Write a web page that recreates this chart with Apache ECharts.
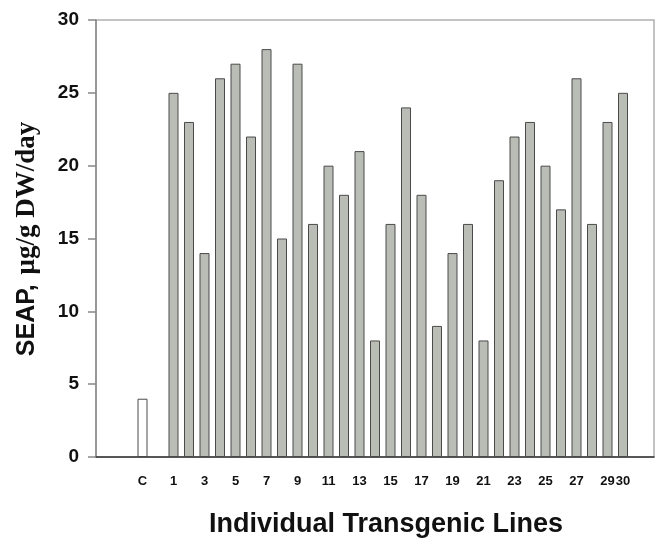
<!DOCTYPE html>
<html>
<head>
<meta charset="utf-8">
<script src="https://cdn.jsdelivr.net/npm/echarts@6/dist/echarts.min.js"></script>
<style>
  html, body { margin: 0; padding: 0; background: #fff; }
  #container { width: 656px; height: 548px; }
</style>
</head>
<body>
<div id="container"></div>
<script>
// lines: control C, then transgenic lines 1..30
var lines = ['C', '1', '2', '3', '4', '5', '6', '7', '8', '9', '10',
    '11', '12', '13', '14', '15', '16', '17', '18', '19', '20',
    '21', '22', '23', '24', '25', '26', '27', '28', '29', '30'];
// SEAP, ug/g DW/day
var seap = [4, 25, 23, 14, 26, 27, 22, 28, 15, 27, 16,
    20, 18, 21, 8, 16, 24, 18, 9, 14, 16,
    8, 19, 22, 23, 20, 17, 26, 16, 23, 25];
// labels shown under the axis
var tickLabels = ['C', '1', '3', '5', '7', '9', '11', '13', '15', '17', '19',
    '21', '23', '25', '27', '29', '30'];
var yTicks = [0, 5, 10, 15, 20, 25, 30];

// axis slots: empty room left of C, a gap between C and 1, room right of 30
var slots = ['', '', ''].concat(['C', ' ']).concat(lines.slice(1)).concat(['', '']);

var barData = slots.map(function (s) {
    var i = lines.indexOf(s);
    if (i < 0) return '-';
    if (s === 'C') {
        return { value: seap[i], itemStyle: { color: '#ffffff' } };
    }
    return seap[i];
});

var dom = document.getElementById('container');
var myChart = echarts.init(dom, null, { renderer: 'canvas' });

var option = {
    animation: false,
    backgroundColor: '#fff',
    grid: {
        left: 96, right: 2, top: 20, bottom: 91,
        show: true,
        borderColor: '#b0b0b0',
        borderWidth: 1.5
    },
    xAxis: {
        type: 'category',
        data: slots,
        boundaryGap: false,
        axisLine: { show: true, lineStyle: { color: '#333', width: 1.5 } },
        axisTick: { show: false },
        axisLabel: {
            interval: function (index, value) {
                return tickLabels.indexOf(value) >= 0;
            },
            margin: 18,
            color: '#111',
            fontFamily: 'Liberation Sans',
            fontWeight: 'bold',
            fontSize: 13
        },
        splitLine: { show: false }
    },
    yAxis: {
        type: 'value',
        min: yTicks[0],
        max: yTicks[yTicks.length - 1],
        interval: 5,
        axisLine: { show: true, lineStyle: { color: '#888', width: 1.5 } },
        axisTick: { show: true, length: 8, lineStyle: { color: '#888', width: 1.5 } },
        axisLabel: {
            margin: 17,
            color: '#111',
            fontFamily: 'Liberation Sans',
            fontWeight: 'bold',
            fontSize: 19
        },
        splitLine: { show: false }
    },
    series: [{
        type: 'bar',
        data: barData,
        barWidth: 10,
        itemStyle: {
            color: '#b9bdb6',
            borderColor: '#4a4a4a',
            borderWidth: 1
        }
    }],
    graphic: [
        {
            type: 'text',
            x: 27, y: 239,
            rotation: Math.PI / 2,
            style: {
                text: '{a|SEAP,}{s| }{b|μg/g DW/day}',
                align: 'center',
                verticalAlign: 'middle',
                rich: {
                    a: { fontFamily: 'Liberation Sans', fontWeight: 'bold', fontSize: 25, fill: '#111' },
                    s: { fontFamily: 'Liberation Sans', fontSize: 25, width: 10 },
                    b: { fontFamily: 'Liberation Serif', fontWeight: 'bold', fontSize: 27, fill: '#111' }
                }
            }
        },
        {
            type: 'text',
            x: 386, y: 525,
            style: {
                text: 'Individual Transgenic Lines',
                align: 'center',
                verticalAlign: 'middle',
                fontFamily: 'Liberation Sans',
                fontWeight: 'bold',
                fontSize: 27,
                fill: '#111'
            }
        }
    ]
};

myChart.setOption(option);
</script>
</body>
</html>
